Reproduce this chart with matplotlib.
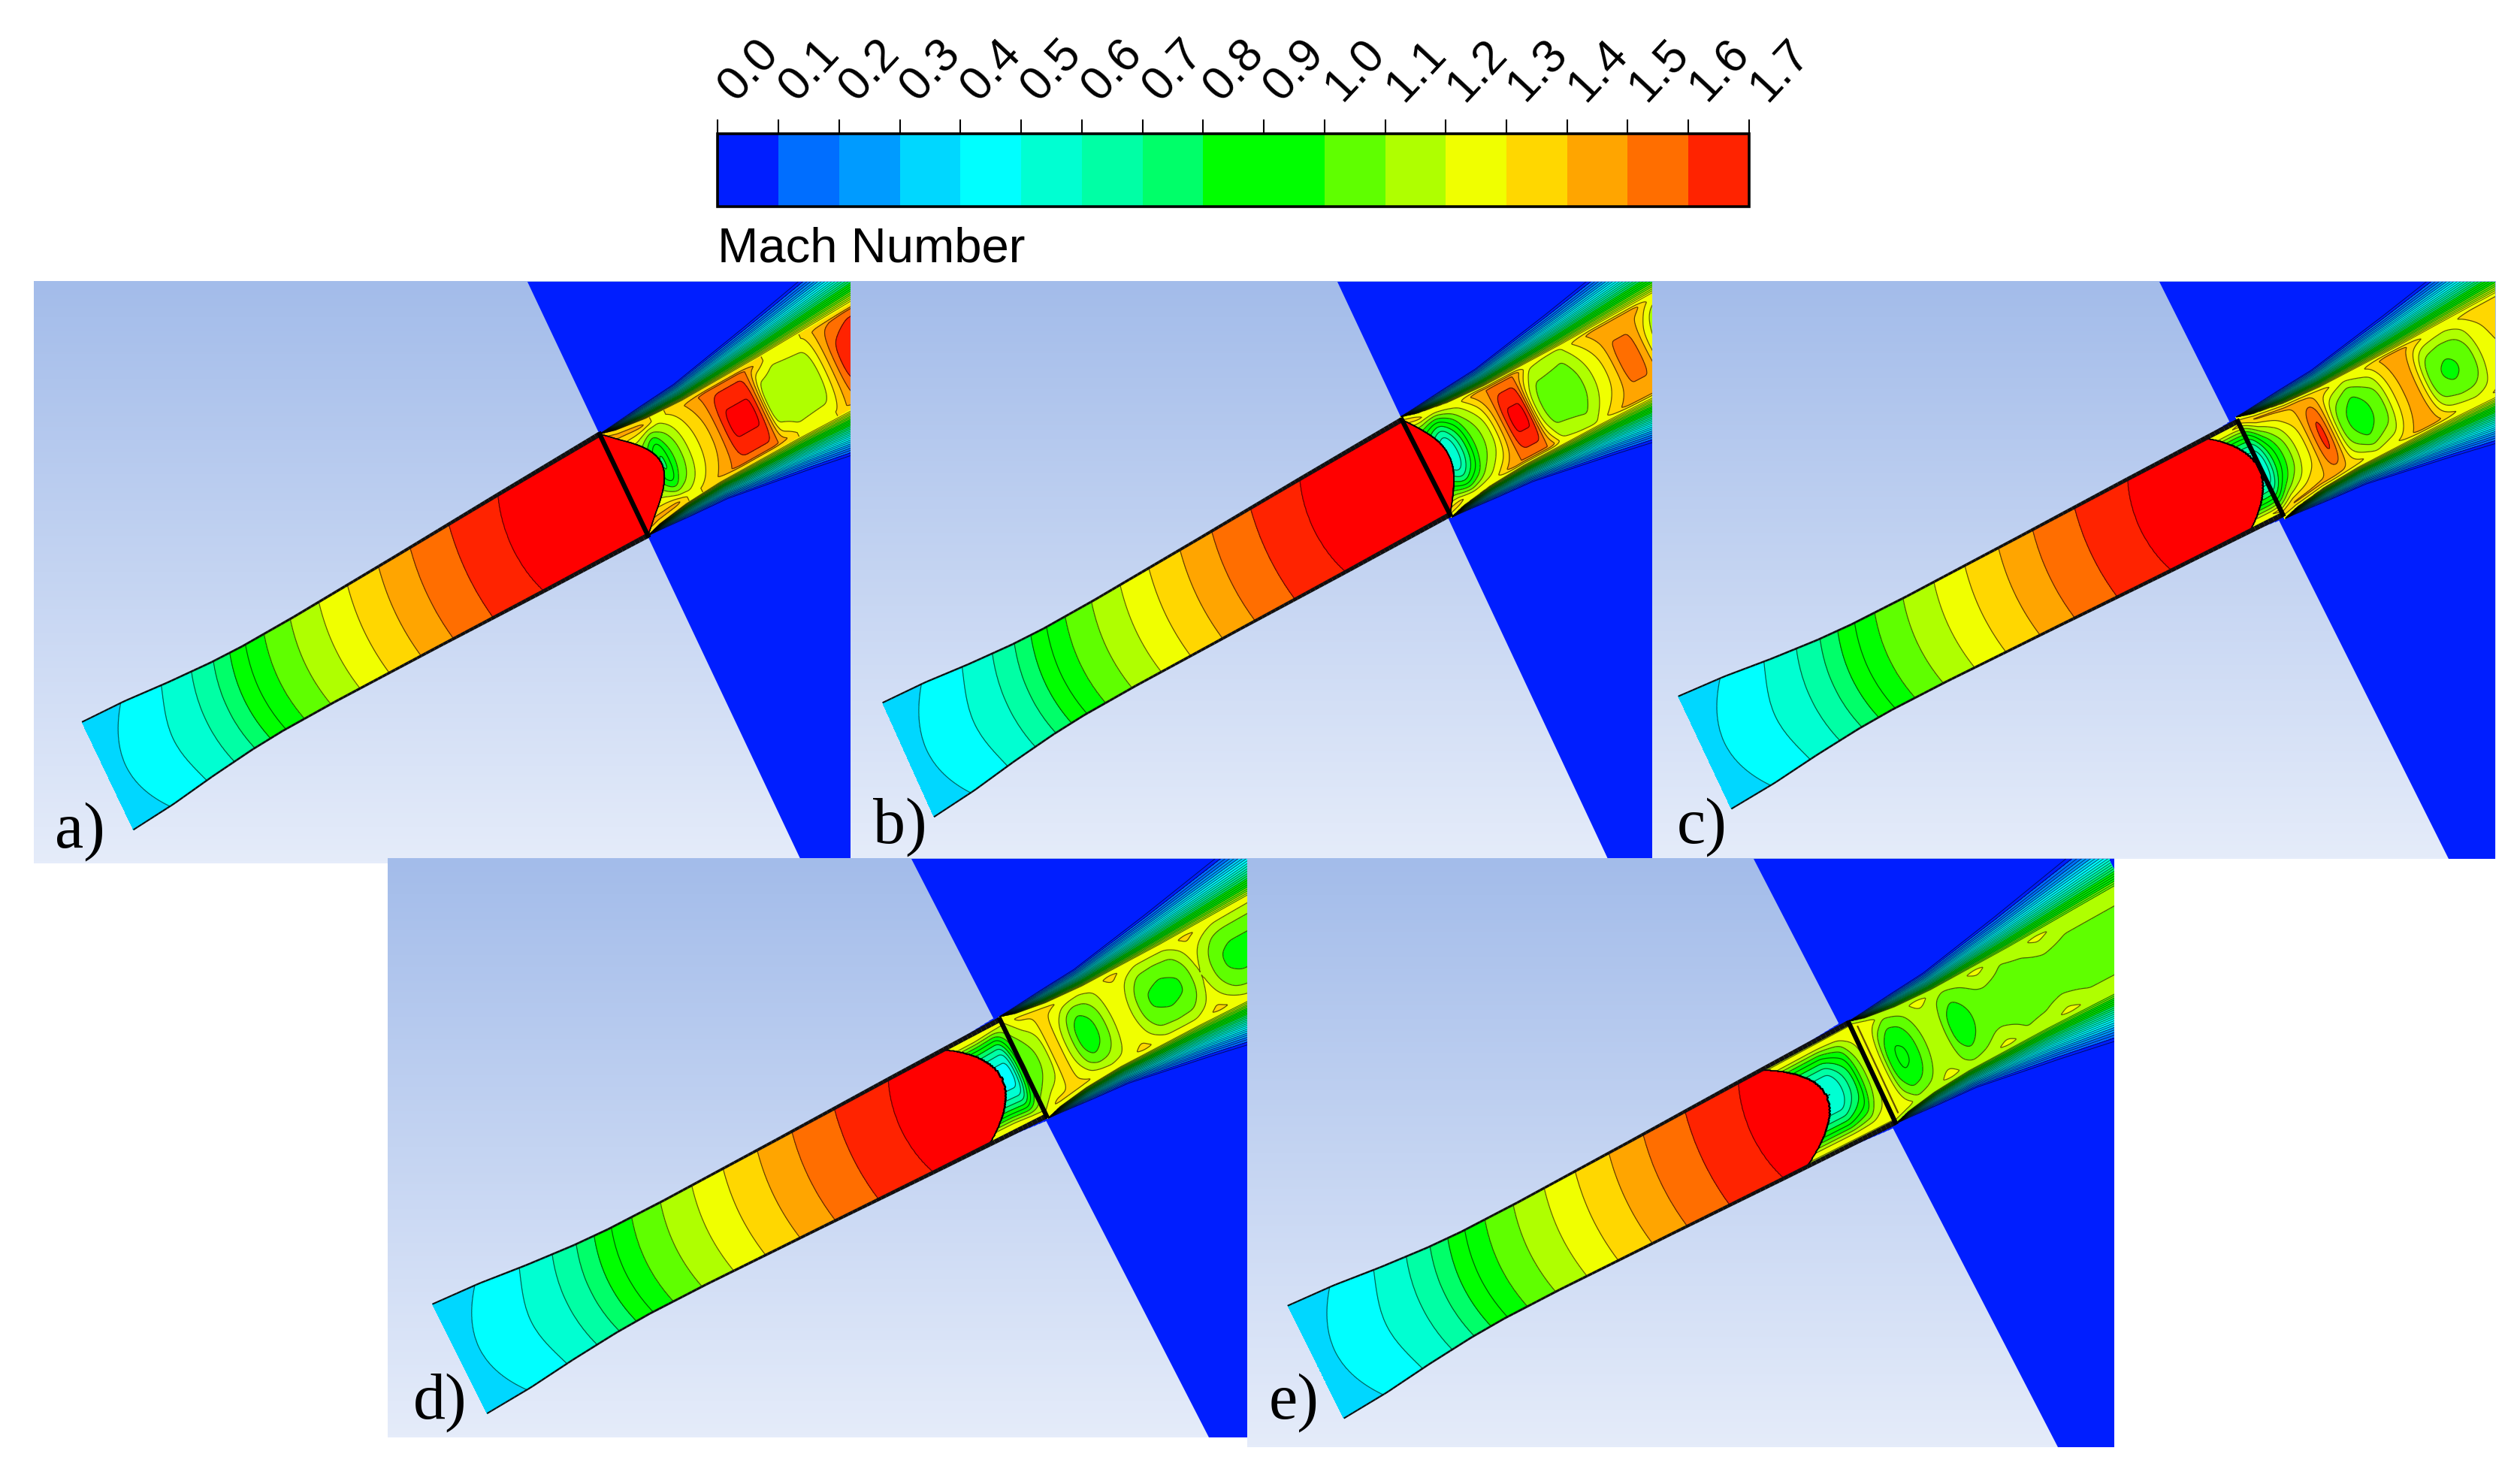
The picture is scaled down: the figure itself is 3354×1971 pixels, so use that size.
# Mach number contours in the nozzle and jet, five cases
import matplotlib
matplotlib.use("Agg")
import matplotlib.pyplot as plt, numpy as np
from matplotlib.colors import ListedColormap, BoundaryNorm, LinearSegmentedColormap
from matplotlib.cm import ScalarMappable
from matplotlib.collections import LineCollection

# Colour scale
levels = np.round(np.arange(0, 1.75, 0.1), 1)
band_colors = ["#001eff", "#006eff", "#009bff", "#00d7ff", "#00ffff", "#00ffd2", "#00ffa5", "#00ff69",
               "#00ff00", "#00ff00", "#5fff00", "#afff00", "#f0ff00", "#ffd700", "#ffa500", "#ff6e00", "#ff2300"]
over_color = "#ff0000"

# Mach along the nozzle (fraction of the length, value at the wall)
nozzle_u = [0, 0.073, 0.148, 0.204, 0.245, 0.276, 0.306, 0.342, 0.393, 0.449, 0.505, 0.566, 0.628, 0.704, 0.801, 1.0]
nozzle_m = [0.33, 0.4, 0.5, 0.6, 0.7, 0.8, 0.9, 1.0, 1.1, 1.2, 1.3, 1.4, 1.5, 1.6, 1.7, 2.2]
neck_u = [0, 0.08, 0.16, 0.24, 0.30, 0.4, 0.6, 0.8, 1]
neck_f = [1, 0.96, 0.88, 0.82, 0.80, 0.81, 0.87, 0.94, 1]
bow_u = [0, 0.08, 0.15, 0.5, 0.7, 0.8, 1]
bow_k = [0.04, 0.035, 0.014, 0.008, 0.008, 0.018, 0.03]

# Jet width against distance from the throat
jet_s = [0, 10, 30, 55, 110, 160, 190]
jet_core = [35, 32, 29, 27.5, 27.5, 28.5, 29]
jet_outer = [35, 36, 38, 40, 50, 60, 66]

# Panel a
a_s = [-20, 20, 27, 30, 33, 40, 47, 55, 64, 70, 76, 94, 100, 103, 125, 136, 142, 150, 156, 170, 190]
a_center = [1.4, 1.0, 0.78, 0.78, 0.95, 1.08, 1.22, 1.32, 1.42, 1.55, 1.72, 1.72, 1.42, 1.12, 1.12, 1.12, 1.25, 1.45, 1.62, 1.72, 1.72]
a_mid_s = [0, 25, 35, 50, 70, 95, 115, 140, 150, 170, 190]
a_mid = [1.45, 1.45, 1.25, 1.35, 1.55, 1.55, 1.25, 1.3, 1.45, 1.55, 1.55]

# Panel b
b_s = [-10, 16, 19, 28, 33, 40, 46, 55, 60, 71, 77, 84, 105, 111, 118, 127, 134, 137, 150, 155, 158, 163, 167, 170, 190]
b_center = [1.1, 0.5, 0.5, 0.8, 1.0, 1.1, 1.2, 1.5, 1.72, 1.72, 1.2, 1.05, 1.05, 1.1, 1.2, 1.3, 1.42, 1.52, 1.52, 1.42, 1.3, 1.2, 1.08, 1.02, 1.0]
b_mid_s = [0, 8, 20, 35, 50, 75, 84, 105, 115, 130, 160, 172, 190]
b_mid = [1.35, 1.35, 1.2, 1.25, 1.5, 1.5, 1.22, 1.15, 1.3, 1.45, 1.45, 1.25, 1.2]

# Panel c
c_s = [-5, 2, 9, 16, 21, 25, 32, 39, 44, 48, 53, 56, 60, 70, 80, 84, 87, 90, 97, 102, 110, 115, 118, 122, 133, 144, 150, 154, 165, 190]
c_center = [0.5, 0.5, 0.8, 1.0, 1.1, 1.2, 1.3, 1.52, 1.66, 1.52, 1.25, 1.1, 1.02, 0.92, 1.02, 1.05, 1.1, 1.2, 1.35, 1.42, 1.42, 1.25, 1.12, 1.02, 0.98, 1.02, 1.1, 1.2, 1.3, 1.3]
c_mid_s = [-5, 10, 40, 55, 70, 85, 100, 110, 125, 140, 160, 190]
c_mid = [1.3, 1.42, 1.42, 1.35, 1.22, 1.3, 1.45, 1.45, 1.3, 1.25, 1.35, 1.35]

# Panel d
d_s = [-22, -15, -8, -3, 0, 3, 11, 18, 23, 26, 30, 35, 38, 44, 52, 58, 64, 75, 81, 88, 100, 112, 119, 125, 133, 141, 150, 190]
d_center = [0.45, 0.45, 0.45, 0.8, 1.0, 1.02, 1.1, 1.2, 1.45, 1.3, 1.2, 1.1, 1.0, 0.92, 1.0, 1.1, 1.22, 1.22, 1.1, 1.0, 0.97, 1.0, 1.1, 1.22, 1.1, 1.0, 0.97, 0.97]
d_mid_s = [-20, 0, 10, 30, 50, 60, 73, 90, 110, 126, 145, 190]
d_mid = [1.3, 1.2, 1.33, 1.33, 1.22, 1.24, 1.34, 1.22, 1.22, 1.34, 1.22, 1.2]

# Panel e
e_s = [-40, -26, -12, -8, -4, 0, 4, 10, 12, 19, 26, 32, 39, 52, 55, 63, 71, 80, 190]
e_center = [0.5, 0.5, 0.8, 1.0, 1.1, 1.2, 1.34, 1.15, 1.0, 0.88, 0.9, 1.0, 1.12, 1.12, 1.0, 0.93, 1.0, 1.05, 1.05]
e_mid_s = [-30, 0, 10, 20, 32, 44, 60, 72, 85, 100, 115, 128, 145, 190]
e_mid = [1.3, 1.3, 1.3, 1.12, 1.15, 1.25, 1.12, 1.15, 1.25, 1.12, 1.15, 1.25, 1.15, 1.15]

# Geometry, in a 1568 x 921 frame
labels = ["a)", "b)", "c)", "d)", "e)"]
rects = [(21, 529, 175, 537), (529, 1027.5, 175, 534), (1027.5, 1552, 175, 534), (241, 776, 534, 894), (776, 1315, 534, 900)]
wedge_top = [328, 832, 1343, 567, 1091]
wedge_bottom = [499, 1000, 1523, 752, 1280]
inlet_up = [(51, 449), (549, 437), (1044, 433), (269, 811), (801, 812)]
inlet_low = [(83, 516), (581, 508), (1077, 503), (303, 879), (836, 882)]
throat_up = [(373, 270), (872, 261), (1392, 262), (622, 634), (1150, 636)]
throat_low = [(403, 333), (902, 320), (1420, 320), (651, 694), (1179, 698)]
jet_end = [(529, 222), (1028, 215), (1552, 215), (776, 590), (1315, 585)]
shock_nose = [27, 16, -1, -15, -32]
shock_curve = [27, 18, 22, 25, 30]
rim = [1.3, 1.25, 1.25, 1.22, 1.12]
blue_frac = [0, 0, 0.07, 0.11, 0.13]
label_xy = [(34, 527), (543, 524), (1043, 524), (257, 882), (789, 882)]

panel_tables = [(a_s, a_center, a_mid_s, a_mid), (b_s, b_center, b_mid_s, b_mid), (c_s, c_center, c_mid_s, c_mid),
                (d_s, d_center, d_mid_s, d_mid), (e_s, e_center, e_mid_s, e_mid)]

cmap = ListedColormap(band_colors)
cmap.set_over(over_color)
norm = BoundaryNorm(levels, cmap.N)
bg_cmap = LinearSegmentedColormap.from_list("bg", ["#a3bcea", "#e5ecfa"])
LINE = (0, 0, 0, 0.6)


def smooth(x):
    x = np.clip(x, 0, 1)
    return x * x * (3 - 2 * x)


def soft_row(s, s_table, m_table):
    # table row along the jet, with its corners rounded off over a few pixels
    fine = np.arange(-60, 211.0)
    row = np.interp(fine, s_table, m_table)
    win = np.hanning(9)
    row = np.convolve(np.pad(row, 4, mode="edge"), win / win.sum(), mode="valid")
    return np.interp(s, fine, row)


def cell_mach(s, tn, table, rim_m):
    # core of the jet: centre row, mid row, rim
    s_c, m_c, s_m, m_m = table
    center = soft_row(s, s_c, m_c)
    mid = soft_row(s, s_m, m_m)
    a = np.abs(tn)
    inner = center + (mid - center) * np.clip(a / 0.9, 0, 1) ** 2.2
    return inner + (rim_m - inner) * smooth((a - 0.88) / 0.12)


def nozzle_mach(u, tn):
    return np.interp(u + np.interp(u, bow_u, bow_k) * (1 - tn ** 2), nozzle_u, nozzle_m)


fig = plt.figure(figsize=(33.55, 19.71), dpi=100)
ax = fig.add_axes([0, 0, 1, 1])
ax.axis("off")

for i in range(5):
    z = 10 * (i + 1)
    x0, x1, y0, y1 = rects[i]
    table = panel_tables[i]
    ax.imshow(np.linspace(0, 1, 256)[:, None], extent=(x0, x1, y1, y0), cmap=bg_cmap, aspect="auto", zorder=z)
    clip = plt.Rectangle((x0, y0), x1 - x0, y1 - y0, transform=ax.transData)

    # blue wall
    ax.fill([wedge_top[i], x1, x1, wedge_bottom[i]], [y0, y0, y1, y1], color=band_colors[0], lw=0, zorder=z + 1)

    iu, il = np.array(inlet_up[i], float), np.array(inlet_low[i], float)
    tu, tl = np.array(throat_up[i], float), np.array(throat_low[i], float)
    in_mid, th_mid = (iu + il) / 2, (tu + tl) / 2
    in_half, th_half = (il - iu) / 2, (tl - tu) / 2
    length = np.hypot(*(th_mid - in_mid))
    nose, curve = shock_nose[i], shock_curve[i]

    # nozzle
    u, tn = np.meshgrid(np.linspace(0, 1, 500), np.linspace(-1, 1, 161))
    f = np.interp(u, neck_u, neck_f)
    nx = in_mid[0] + (th_mid[0] - in_mid[0]) * u + tn * f * (in_half[0] + (th_half[0] - in_half[0]) * u)
    ny = in_mid[1] + (th_mid[1] - in_mid[1]) * u + tn * f * (in_half[1] + (th_half[1] - in_half[1]) * u)
    s = (u - 1) * length
    m = np.where(s < nose - curve * tn ** 2, nozzle_mach(u, tn), cell_mach(s, tn, table, rim[i]))
    ax.contourf(nx, ny, m, levels=levels, cmap=cmap, norm=norm, extend="max", zorder=z + 2)
    ax.contour(nx, ny, m, levels=levels[1:], colors=[LINE], linewidths=0.9, zorder=z + 3)

    # jet
    axis = np.array(jet_end[i], float) - th_mid
    axis = axis / np.hypot(*axis)
    perp = th_half / np.hypot(*th_half)
    s, v = np.meshgrid(np.linspace(0, 190, 700), np.linspace(-1, 1, 601))
    outer = np.interp(s, jet_s, jet_outer)
    core = np.interp(s, jet_s, jet_core)
    t = v * outer
    tn = t / core
    jx = th_mid[0] + s * axis[0] + t * perp[0]
    jy = th_mid[1] + s * axis[1] + t * perp[1]
    inside = np.abs(tn) <= 1
    x = np.clip((np.abs(t) - core) / np.maximum(outer - core, 1e-6), 0, 1)
    shear = rim[i] * (1 - x) ** 1.3
    m = np.where(inside, cell_mach(s, tn, table, rim[i]), shear)
    m = np.where(s < nose - curve * tn ** 2, 2.0, m)
    cf = ax.contourf(jx, jy, m, levels=levels, cmap=cmap, norm=norm, extend="max", zorder=z + 2)
    cf.set_clip_path(clip)
    cl = ax.contour(jx, jy, np.where(inside, m, np.nan), levels=levels[1:], colors=[LINE], linewidths=0.9, zorder=z + 3)
    cl.set_clip_path(clip)
    cs = ax.contour(jx, jy, np.where(inside, np.nan, m), levels=np.arange(0.03, 1.25, 0.05), colors=[LINE],
                    linewidths=0.7, zorder=z + 3)
    cs.set_clip_path(clip)

    # walls and throat
    uw = np.linspace(0, 1, 121)
    fw = np.interp(uw, neck_u, neck_f)
    widths = np.interp(uw[:-1], [0, 0.3, 0.6, 0.85, 1], [1.5, 2, 2.8, 4, 5])
    for sign in (-1, 1):
        wx = in_mid[0] + (th_mid[0] - in_mid[0]) * uw + sign * fw * (in_half[0] + (th_half[0] - in_half[0]) * uw)
        wy = in_mid[1] + (th_mid[1] - in_mid[1]) * uw + sign * fw * (in_half[1] + (th_half[1] - in_half[1]) * uw)
        pts = np.column_stack([wx, wy])
        segs = np.stack([pts[:-1], pts[1:]], axis=1)
        ax.add_collection(LineCollection(segs, colors="#101010", linewidths=widths, zorder=z + 4))
        if blue_frac[i] > 0:
            # thin blue sliver outside the wall just before the throat
            taper = np.clip((uw[:-1] - (1 - blue_frac[i])) / blue_frac[i], 0, 1) * 9
            ax.add_collection(LineCollection(segs, colors=band_colors[0], linewidths=taper, zorder=z + 1.5))
    ax.plot([tu[0], tl[0]], [tu[1], tl[1]], color="black", lw=4.5, solid_capstyle="projecting", zorder=z + 5)

    ax.text(label_xy[i][0], label_xy[i][1], labels[i], family="Liberation Serif", fontsize=62, color="black",
            ha="left", va="baseline", zorder=z + 6)

ax.set_xlim(0, 1568)
ax.set_ylim(921, 0)

# Colour bar
cb_x0, cb_x1, cb_y0, cb_y1 = 446.5, 1088, 83, 128.5
cax = fig.add_axes([cb_x0 / 1568, 1 - cb_y1 / 921, (cb_x1 - cb_x0) / 1568, (cb_y1 - cb_y0) / 921])
cbar = fig.colorbar(ScalarMappable(norm=norm, cmap=cmap), cax=cax, orientation="horizontal", spacing="proportional", ticks=levels)
cax.xaxis.set_ticks_position("top")
cax.tick_params(axis="x", length=13.5, width=1.5, color="black", labeltop=False, labelbottom=False)
cax.minorticks_off()
cbar.outline.set_linewidth(2.6)
for v in levels:
    ax.text(cb_x0 + 11 + v / 1.7 * (cb_x1 - cb_x0), 64, f"{v:.1f}", family="Liberation Sans", fontsize=45, rotation=47,
            rotation_mode="anchor", ha="left", va="baseline", color="black", zorder=100)
ax.text(cb_x0, 163, "Mach Number", family="Liberation Sans", fontsize=47, color="black", ha="left", va="baseline", zorder=100)

fig.savefig("out.png", dpi=100)
